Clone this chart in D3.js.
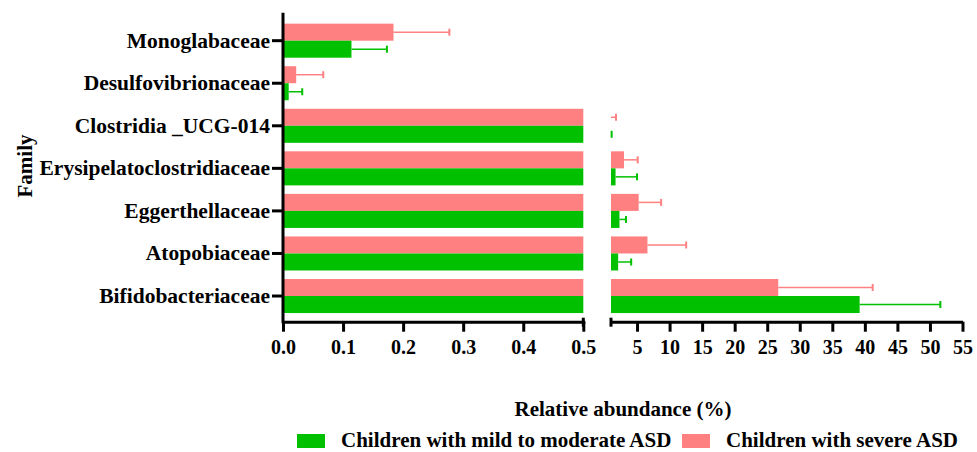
<!DOCTYPE html>
<html lang="en">

<head>
    <meta charset="UTF-8">
    <title>Relative abundance by family</title>
    <script src="https://d3js.org/d3.v7.min.js"></script>
    <style>
        body {
            margin: 0;
            background: white;
        }

        text {
            font-family: "Liberation Serif", "Times New Roman", serif;
            font-weight: bold;
            fill: black;
        }
    </style>
</head>

<body>
    <div id="chart"></div>
    <script>
        const width = 977;
        const height = 452;

        // data (top to bottom)
        const families = ["Monoglabaceae", "Desulfovibrionaceae", "Clostridia _UCG-014",
            "Erysipelatoclostridiaceae", "Eggerthellaceae", "Atopobiaceae", "Bifidobacteriaceae"];
        const mildMean = [0.114, 0.0095, 0.7, 1.7, 2.3, 2.1, 39.2];
        const mildSd = [0.059, 0.0225, 0.4, 3.3, 1.0, 2.0, 12.4];
        const severeMean = [0.184, 0.022, 0.8, 3.0, 5.25, 6.6, 26.7];
        const severeSd = [0.093, 0.045, 0.97, 2.1, 3.45, 5.95, 14.5];
        const leftTicks = [0, 0.1, 0.2, 0.3, 0.4, 0.5];
        const rightTicks = [5, 10, 15, 20, 25, 30, 35, 40, 45, 50, 55];
        const groups = ["Children with severe ASD", "Children with mild to moderate ASD"];
        const legendOrder = ["Children with mild to moderate ASD", "Children with severe ASD"];

        const colors = {
            "Children with mild to moderate ASD": "#00c000",
            "Children with severe ASD": "#ff8080"
        };

        const rows = [];
        families.forEach(function (f, i) {
            rows.push({ family: f, group: groups[0], mean: severeMean[i], sd: severeSd[i] });
            rows.push({ family: f, group: groups[1], mean: mildMean[i], sd: mildSd[i] });
        });

        const svg = d3.select("#chart")
            .append("svg")
            .attr("width", width)
            .attr("height", height);

        // broken x axis: two segments
        const xL = d3.scaleLinear().domain([0, 0.5]).range([283, 583.3]);
        const xR = d3.scaleLinear().domain([1, 55]).range([611, 962.5]);
        const segments = [xL, xR];

        const y = d3.scaleBand().domain(families).range([19.4, 317.3])
            .paddingInner(0.2).paddingOuter(0.1);
        const yInner = d3.scaleBand().domain(groups).range([0, y.bandwidth()]);

        const axisY = 321.7;

        // bars, clipped per segment
        segments.forEach(function (x) {
            const [d0, d1] = x.domain();
            svg.append("g")
                .selectAll("rect")
                .data(rows.filter(d => d.mean > d0))
                .join("rect")
                .attr("x", x(d0))
                .attr("y", d => y(d.family) + yInner(d.group))
                .attr("width", d => x(Math.min(d.mean, d1)) - x(d0))
                .attr("height", yInner.bandwidth())
                .attr("fill", d => colors[d.group]);

            // error bars (upper only)
            const eb = svg.append("g")
                .selectAll("g")
                .data(rows.filter(d => d.mean + d.sd > d0 && d.mean < d1))
                .join("g")
                .attr("stroke", d => colors[d.group]);

            eb.append("line")
                .attr("x1", d => x(Math.max(d.mean, d0)))
                .attr("x2", d => x(Math.min(d.mean + d.sd, d1)))
                .attr("y1", d => y(d.family) + yInner(d.group) + yInner.bandwidth() / 2)
                .attr("y2", d => y(d.family) + yInner(d.group) + yInner.bandwidth() / 2)
                .attr("stroke-width", 1.5);

            eb.filter(d => d.mean + d.sd <= d1)
                .append("line")
                .attr("x1", d => x(d.mean + d.sd))
                .attr("x2", d => x(d.mean + d.sd))
                .attr("y1", d => y(d.family) + yInner(d.group) + yInner.bandwidth() / 2 - 3.5)
                .attr("y2", d => y(d.family) + yInner(d.group) + yInner.bandwidth() / 2 + 3.5)
                .attr("stroke-width", 2);
        });

        // x axes
        function styleAxis(g) {
            g.selectAll("path, line").attr("stroke", "black").attr("stroke-width", 3);
            g.selectAll("text")
                .style("font-size", "20px")
                .attr("y", 18);
        }

        const gL = svg.append("g")
            .attr("transform", `translate(0,${axisY})`)
            .call(d3.axisBottom(xL).tickValues(leftTicks).tickFormat(d3.format(".1f"))
                .tickSize(10).tickSizeOuter(0))
            .call(styleAxis);
        gL.select(".domain").attr("stroke-linecap", "square");

        const gR = svg.append("g")
            .attr("transform", `translate(0,${axisY})`)
            .call(d3.axisBottom(xR).tickValues(rightTicks).tickSize(10).tickSizeOuter(0))
            .call(styleAxis);

        // break caps
        [[xL, 0.5], [xR, 1]].forEach(function ([x, v]) {
            svg.append("line")
                .attr("x1", x(v)).attr("x2", x(v))
                .attr("y1", axisY - 4).attr("y2", axisY + 5)
                .attr("stroke", "black")
                .attr("stroke-width", 3);
        });

        // y axis
        const gY = svg.append("g")
            .attr("transform", "translate(283,0)")
            .call(d3.axisLeft(y).tickSize(11).tickSizeOuter(0).tickPadding(2));
        gY.select(".domain").attr("d", `M0,12.7V${axisY + 1.5}`);
        gY.selectAll("path, line").attr("stroke", "black").attr("stroke-width", 3);
        gY.selectAll("text").style("font-size", "21.5px");

        // axis titles
        svg.append("text")
            .attr("x", 623)
            .attr("y", 416)
            .attr("text-anchor", "middle")
            .style("font-size", "21px")
            .text("Relative abundance (%)");

        svg.append("text")
            .attr("transform", "translate(32,166) rotate(-90)")
            .attr("text-anchor", "middle")
            .style("font-size", "21px")
            .text("Family");

        // legend
        const legendX = [297, 682];
        const legend = svg.append("g")
            .selectAll("g")
            .data(legendOrder)
            .join("g")
            .attr("transform", (d, i) => `translate(${legendX[i]},434)`);

        legend.append("rect")
            .attr("width", 28)
            .attr("height", 14)
            .attr("fill", d => colors[d]);

        legend.append("text")
            .attr("x", 44)
            .attr("y", 13)
            .style("font-size", "21px")
            .text(d => d);
    </script>
</body>

</html>
